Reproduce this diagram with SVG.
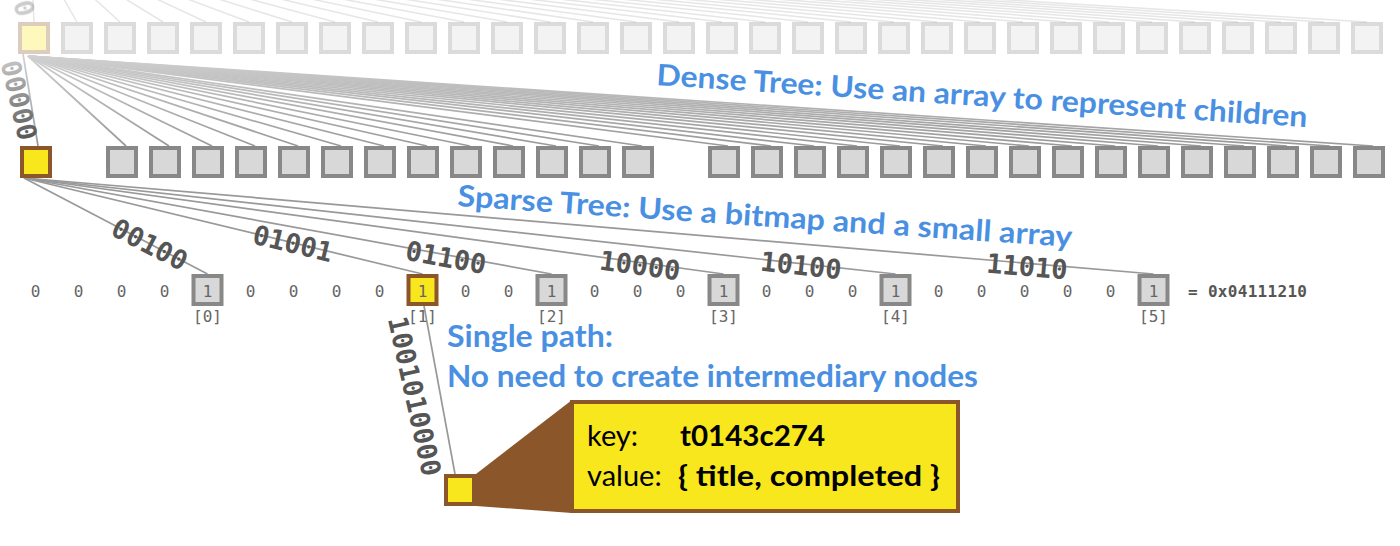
<svg xmlns="http://www.w3.org/2000/svg" width="1400" height="546" viewBox="0 0 1400 546">
<defs>
<style>
.bg{fill:#d8d8d8;stroke:#888;stroke-width:4}
.by{fill:#f8e71c;stroke:#8b572a;stroke-width:4}
.w{stroke:#999;stroke-width:1.7;fill:none}
.wf{stroke:url(#fanGrad);stroke-width:1.7;fill:none}
.wt{stroke:#e6e6e6;stroke-width:1.5;fill:none}
.lbl{font-family:"DejaVu Sans Mono","Liberation Mono",monospace;font-weight:bold;font-size:27px;fill:#555;text-anchor:middle}
.bit{font-family:"DejaVu Sans Mono","Liberation Mono",monospace;font-size:16px;fill:#666;text-anchor:middle}
.hex{font-family:"DejaVu Sans Mono","Liberation Mono",monospace;font-size:16px;font-weight:bold;fill:#555}
.blue{font-family:Lato,"Open Sans",sans-serif;font-weight:bold;font-size:29.5px;fill:#4a90e2}
.kv{font-family:Lato,"Open Sans",sans-serif;font-size:29px;fill:#000}
.kvb{font-family:Lato,"Open Sans",sans-serif;font-size:29px;font-weight:bold;fill:#000}
</style>
<linearGradient id="fanGrad" gradientUnits="userSpaceOnUse" x1="0" y1="56" x2="0" y2="146">
<stop offset="0" stop-color="#d0d0d0"/>
<stop offset="1" stop-color="#999"/>
</linearGradient>
<linearGradient id="lblGrad" x1="0" y1="0" x2="1" y2="0">
<stop offset="0" stop-color="#c4c4c4"/>
<stop offset="1" stop-color="#555"/>
</linearGradient>
</defs>
<rect width="1400" height="546" fill="#fff"/>

<g id="connectors">
<g id="top-faint">
<line class="wt" x1="30" y1="-60" x2="34" y2="22"/><line class="wt" x1="30" y1="-60" x2="77" y2="22"/><line class="wt" x1="30" y1="-60" x2="120" y2="22"/><line class="wt" x1="30" y1="-60" x2="163" y2="22"/><line class="wt" x1="30" y1="-60" x2="206" y2="22"/><line class="wt" x1="30" y1="-60" x2="249" y2="22"/><line class="wt" x1="30" y1="-60" x2="292" y2="22"/><line class="wt" x1="30" y1="-60" x2="335" y2="22"/><line class="wt" x1="30" y1="-60" x2="378" y2="22"/><line class="wt" x1="30" y1="-60" x2="421" y2="22"/><line class="wt" x1="30" y1="-60" x2="464" y2="22"/><line class="wt" x1="30" y1="-60" x2="507" y2="22"/><line class="wt" x1="30" y1="-60" x2="550" y2="22"/><line class="wt" x1="30" y1="-60" x2="593" y2="22"/><line class="wt" x1="30" y1="-60" x2="636" y2="22"/><line class="wt" x1="30" y1="-60" x2="679" y2="22"/><line class="wt" x1="30" y1="-60" x2="722" y2="22"/><line class="wt" x1="30" y1="-60" x2="765" y2="22"/><line class="wt" x1="30" y1="-60" x2="808" y2="22"/><line class="wt" x1="30" y1="-60" x2="851" y2="22"/><line class="wt" x1="30" y1="-60" x2="894" y2="22"/><line class="wt" x1="30" y1="-60" x2="937" y2="22"/><line class="wt" x1="30" y1="-60" x2="980" y2="22"/><line class="wt" x1="30" y1="-60" x2="1023" y2="22"/><line class="wt" x1="30" y1="-60" x2="1066" y2="22"/><line class="wt" x1="30" y1="-60" x2="1109" y2="22"/><line class="wt" x1="30" y1="-60" x2="1152" y2="22"/><line class="wt" x1="30" y1="-60" x2="1195" y2="22"/><line class="wt" x1="30" y1="-60" x2="1238" y2="22"/><line class="wt" x1="30" y1="-60" x2="1281" y2="22"/><line class="wt" x1="30" y1="-60" x2="1324" y2="22"/><line class="wt" x1="30" y1="-60" x2="1367" y2="22"/>
</g>
<g id="dense-fan">
<line class="wf" x1="23" y1="54" x2="38" y2="146"/>
<line class="wf" x1="28" y1="56" x2="126" y2="146"/><line class="wf" x1="28" y1="56" x2="169" y2="146"/><line class="wf" x1="28" y1="56" x2="212" y2="146"/><line class="wf" x1="28" y1="56" x2="255" y2="146"/><line class="wf" x1="28" y1="56" x2="298" y2="146"/><line class="wf" x1="28" y1="56" x2="341" y2="146"/><line class="wf" x1="28" y1="56" x2="384" y2="146"/><line class="wf" x1="28" y1="56" x2="427" y2="146"/><line class="wf" x1="28" y1="56" x2="470" y2="146"/><line class="wf" x1="28" y1="56" x2="513" y2="146"/><line class="wf" x1="28" y1="56" x2="556" y2="146"/><line class="wf" x1="28" y1="56" x2="599" y2="146"/><line class="wf" x1="28" y1="56" x2="642" y2="146"/>
<line class="wf" x1="28" y1="56" x2="728" y2="146"/><line class="wf" x1="28" y1="56" x2="771" y2="146"/><line class="wf" x1="28" y1="56" x2="814" y2="146"/><line class="wf" x1="28" y1="56" x2="857" y2="146"/><line class="wf" x1="28" y1="56" x2="900" y2="146"/><line class="wf" x1="28" y1="56" x2="943" y2="146"/><line class="wf" x1="28" y1="56" x2="986" y2="146"/><line class="wf" x1="28" y1="56" x2="1029" y2="146"/><line class="wf" x1="28" y1="56" x2="1072" y2="146"/><line class="wf" x1="28" y1="56" x2="1115" y2="146"/><line class="wf" x1="28" y1="56" x2="1158" y2="146"/><line class="wf" x1="28" y1="56" x2="1201" y2="146"/><line class="wf" x1="28" y1="56" x2="1244" y2="146"/><line class="wf" x1="28" y1="56" x2="1287" y2="146"/><line class="wf" x1="28" y1="56" x2="1330" y2="146"/><line class="wf" x1="28" y1="56" x2="1373" y2="146"/>
</g>
<g id="sparse-fan">
<line class="w" x1="24" y1="178" x2="207.5" y2="274"/>
<line class="w" x1="24" y1="178" x2="422.5" y2="274"/>
<line class="w" x1="24" y1="178" x2="551.5" y2="274"/>
<line class="w" x1="24" y1="178" x2="723.5" y2="274"/>
<line class="w" x1="24" y1="178" x2="895.5" y2="274"/>
<line class="w" x1="24" y1="178" x2="1153.5" y2="274"/>
</g>
<line id="single-path" class="w" x1="424" y1="306" x2="455" y2="474"/>
</g>

<g id="dense-row" opacity="0.3">
<g id="top-root"><rect class="by" x="20" y="24" width="28" height="28"/></g>
<g id="top-children">
<rect class="bg" x="63" y="24" width="28" height="28"/><rect class="bg" x="106" y="24" width="28" height="28"/><rect class="bg" x="149" y="24" width="28" height="28"/><rect class="bg" x="192" y="24" width="28" height="28"/><rect class="bg" x="235" y="24" width="28" height="28"/><rect class="bg" x="278" y="24" width="28" height="28"/><rect class="bg" x="321" y="24" width="28" height="28"/><rect class="bg" x="364" y="24" width="28" height="28"/><rect class="bg" x="407" y="24" width="28" height="28"/><rect class="bg" x="450" y="24" width="28" height="28"/><rect class="bg" x="493" y="24" width="28" height="28"/><rect class="bg" x="536" y="24" width="28" height="28"/><rect class="bg" x="579" y="24" width="28" height="28"/><rect class="bg" x="622" y="24" width="28" height="28"/><rect class="bg" x="665" y="24" width="28" height="28"/><rect class="bg" x="708" y="24" width="28" height="28"/><rect class="bg" x="751" y="24" width="28" height="28"/><rect class="bg" x="794" y="24" width="28" height="28"/><rect class="bg" x="837" y="24" width="28" height="28"/><rect class="bg" x="880" y="24" width="28" height="28"/><rect class="bg" x="923" y="24" width="28" height="28"/><rect class="bg" x="966" y="24" width="28" height="28"/><rect class="bg" x="1009" y="24" width="28" height="28"/><rect class="bg" x="1052" y="24" width="28" height="28"/><rect class="bg" x="1095" y="24" width="28" height="28"/><rect class="bg" x="1138" y="24" width="28" height="28"/><rect class="bg" x="1181" y="24" width="28" height="28"/><rect class="bg" x="1224" y="24" width="28" height="28"/><rect class="bg" x="1267" y="24" width="28" height="28"/><rect class="bg" x="1310" y="24" width="28" height="28"/><rect class="bg" x="1353" y="24" width="28" height="28"/>
</g>
<text class="lbl" transform="translate(24.5,8) rotate(75)" y="10">0</text>
</g>

<g id="sparse-root"><rect class="by" x="22" y="148" width="28" height="28"/></g>
<g id="middle-children">
<rect class="bg" x="108" y="148" width="28" height="28"/><rect class="bg" x="151" y="148" width="28" height="28"/><rect class="bg" x="194" y="148" width="28" height="28"/><rect class="bg" x="237" y="148" width="28" height="28"/><rect class="bg" x="280" y="148" width="28" height="28"/><rect class="bg" x="323" y="148" width="28" height="28"/><rect class="bg" x="366" y="148" width="28" height="28"/><rect class="bg" x="409" y="148" width="28" height="28"/><rect class="bg" x="452" y="148" width="28" height="28"/><rect class="bg" x="495" y="148" width="28" height="28"/><rect class="bg" x="538" y="148" width="28" height="28"/><rect class="bg" x="581" y="148" width="28" height="28"/><rect class="bg" x="624" y="148" width="28" height="28"/>
<rect class="bg" x="710" y="148" width="28" height="28"/><rect class="bg" x="753" y="148" width="28" height="28"/><rect class="bg" x="796" y="148" width="28" height="28"/><rect class="bg" x="839" y="148" width="28" height="28"/><rect class="bg" x="882" y="148" width="28" height="28"/><rect class="bg" x="925" y="148" width="28" height="28"/><rect class="bg" x="968" y="148" width="28" height="28"/><rect class="bg" x="1011" y="148" width="28" height="28"/><rect class="bg" x="1054" y="148" width="28" height="28"/><rect class="bg" x="1097" y="148" width="28" height="28"/><rect class="bg" x="1140" y="148" width="28" height="28"/><rect class="bg" x="1183" y="148" width="28" height="28"/><rect class="bg" x="1226" y="148" width="28" height="28"/><rect class="bg" x="1269" y="148" width="28" height="28"/><rect class="bg" x="1312" y="148" width="28" height="28"/><rect class="bg" x="1355" y="148" width="28" height="28"/>
</g>

<g id="edge-labels">
<text class="lbl" style="fill:url(#lblGrad)" transform="translate(19.5,100) rotate(77)" y="10">00000</text>
<text class="lbl" transform="translate(150,244) rotate(27.4)" y="10">00100</text>
<text class="lbl" transform="translate(293,243) rotate(13.5)" y="10">01001</text>
<text class="lbl" transform="translate(446,257) rotate(10.3)" y="10">01100</text>
<text class="lbl" transform="translate(640,265) rotate(7.8)" y="10">10000</text>
<text class="lbl" transform="translate(801,265) rotate(6.3)" y="10">10100</text>
<text class="lbl" transform="translate(1027,266) rotate(4.85)" y="10">11010</text>
<text class="lbl" transform="translate(415,396) rotate(77.5)" y="10">1001010000</text>
</g>

<g id="bitmap">
<text class="bit" x="35.5" y="297">0</text><text class="bit" x="78.5" y="297">0</text><text class="bit" x="121.5" y="297">0</text><text class="bit" x="164.5" y="297">0</text>
<text class="bit" x="250.5" y="297">0</text><text class="bit" x="293.5" y="297">0</text><text class="bit" x="336.5" y="297">0</text><text class="bit" x="379.5" y="297">0</text>
<text class="bit" x="465.5" y="297">0</text><text class="bit" x="508.5" y="297">0</text>
<text class="bit" x="594.5" y="297">0</text><text class="bit" x="637.5" y="297">0</text><text class="bit" x="680.5" y="297">0</text>
<text class="bit" x="766.5" y="297">0</text><text class="bit" x="809.5" y="297">0</text><text class="bit" x="852.5" y="297">0</text>
<text class="bit" x="938.5" y="297">0</text><text class="bit" x="981.5" y="297">0</text><text class="bit" x="1024.5" y="297">0</text><text class="bit" x="1067.5" y="297">0</text><text class="bit" x="1110.5" y="297">0</text>
<text class="hex" x="1188" y="297" textLength="119">= 0x04111210</text>
</g>
<g id="slot-0"><rect class="bg" x="193.5" y="276" width="28" height="28"/><text class="bit" x="207.5" y="297">1</text><text class="bit" x="207.5" y="322">[0]</text></g>
<g id="slot-1"><rect class="by" x="408.5" y="276" width="28" height="28"/><text class="bit" x="422.5" y="297">1</text><text class="bit" x="422.5" y="322">[1]</text></g>
<g id="slot-2"><rect class="bg" x="537.5" y="276" width="28" height="28"/><text class="bit" x="551.5" y="297">1</text><text class="bit" x="551.5" y="322">[2]</text></g>
<g id="slot-3"><rect class="bg" x="709.5" y="276" width="28" height="28"/><text class="bit" x="723.5" y="297">1</text><text class="bit" x="723.5" y="322">[3]</text></g>
<g id="slot-4"><rect class="bg" x="881.5" y="276" width="28" height="28"/><text class="bit" x="895.5" y="297">1</text><text class="bit" x="895.5" y="322">[4]</text></g>
<g id="slot-5"><rect class="bg" x="1139.5" y="276" width="28" height="28"/><text class="bit" x="1153.5" y="297">1</text><text class="bit" x="1153.5" y="322">[5]</text></g>

<g id="captions">
<text class="blue" x="656" y="85" transform="rotate(3.7 656 85)" textLength="652" lengthAdjust="spacingAndGlyphs">Dense Tree: Use an array to represent children</text>
<text class="blue" x="457" y="206" transform="rotate(3.8 457 206)" textLength="616" lengthAdjust="spacingAndGlyphs">Sparse Tree: Use a bitmap and a small array</text>
<text class="blue" x="447" y="347" textLength="166" lengthAdjust="spacingAndGlyphs">Single path:</text>
<text class="blue" x="447" y="387" textLength="531" lengthAdjust="spacingAndGlyphs">No need to create intermediary nodes</text>
</g>

<g id="leaf">
<polygon points="476,474 572,400 572,513 476,506" fill="#8b572a"/>
<rect class="by" x="446" y="476" width="28" height="28"/>
<rect class="by" x="572" y="402" width="386" height="109"/>
<text class="kv" x="587" y="446">key:</text>
<text class="kvb" x="680" y="446" textLength="145" lengthAdjust="spacingAndGlyphs">t0143c274</text>
<text class="kv" x="587" y="486">value:</text>
<text class="kvb" x="678" y="486" textLength="262" lengthAdjust="spacingAndGlyphs">{ title, completed }</text>
</g>
</svg>
